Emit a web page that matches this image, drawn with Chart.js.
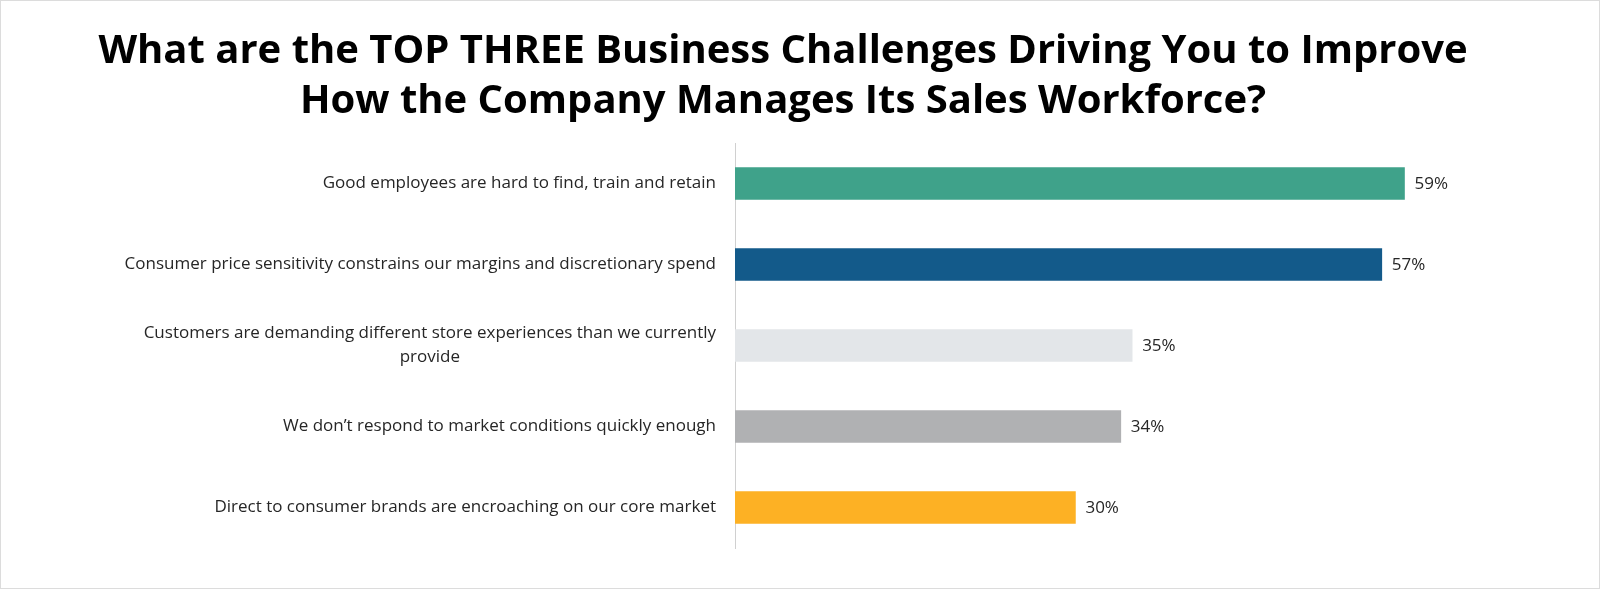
<!DOCTYPE html>
<html><head><meta charset="utf-8">
<script src="https://cdn.jsdelivr.net/npm/chart.js@4"></script>
<style>html,body{margin:0;padding:0;background:#fff}#wrap{width:1600px;height:589px}</style>
</head><body><div id="wrap"><canvas id="c"></canvas></div>
<script>
const titleLines = ["What are the TOP THREE Business Challenges Driving You to Improve","How the Company Manages Its Sales Workforce?"];
const categories = [
  ["Good employees are hard to find, train and retain"],
  ["Consumer price sensitivity constrains our margins and discretionary spend"],
  ["Customers are demanding different store experiences than we currently","provide"],
  ["We don\u2019t respond to market conditions quickly enough"],
  ["Direct to consumer brands are encroaching on our core market"]
];
const values = [59, 57, 35, 34, 30];
const colors = ["#3FA28A", "#135A8A", "#E3E6E9", "#B0B1B3", "#FDB124"];

const deco = {
  id: 'deco',
  afterDraw(chart) {
    const ctx = chart.ctx;
    ctx.save();
    ctx.strokeStyle = '#dcdcdc'; ctx.lineWidth = 1;
    ctx.strokeRect(0.5, 0.5, chart.width - 1, chart.height - 1);
    ctx.fillStyle = '#000'; ctx.textAlign = 'center'; ctx.textBaseline = 'middle';
    ctx.font = 'bold 40px "Open Sans"';
    ctx.fillText(titleLines[0], 783, 52);
    ctx.fillText(titleLines[1], 783, 102);
    const y = chart.scales.y, x = chart.scales.x;
    ctx.font = '17px "Open Sans"'; ctx.fillStyle = '#262626';
    categories.forEach((lines, i) => {
      const cy = y.getPixelForTick(i);
      const lh = 24;
      let maxW = 0; lines.forEach(l => maxW = Math.max(maxW, ctx.measureText(l).width));
      const cx = 716 - maxW / 2;
      lines.forEach((l, j) => {
        ctx.textAlign = 'center';
        ctx.fillText(l, cx, cy + (j - (lines.length - 1) / 2) * lh);
      });
      ctx.textAlign = 'left';
      ctx.fillText(values[i] + '%', x.getPixelForValue(values[i]) + 10, cy + 1);
    });
    ctx.restore();
  }
};

new Chart(document.getElementById('c'), {
  type: 'bar',
  data: { labels: categories.map(l => l.join(' ')), datasets: [{ data: values, backgroundColor: colors, barThickness: 32 }] },
  options: {
    indexAxis: 'y', responsive: true, maintainAspectRatio: false, animation: false,
    layout: { padding: { left: 735, right: 48, top: 143, bottom: 41 } },
    plugins: { legend: { display: false }, tooltip: { enabled: false } },
    scales: {
      x: { display: false, min: 0, max: 72 },
      y: { ticks: { display: false }, grid: { display: false }, border: { display: true, color: '#d0d0d0' }, afterFit(s) { s.width = 0; } }
    }
  },
  plugins: [deco]
});
</script></body></html>
